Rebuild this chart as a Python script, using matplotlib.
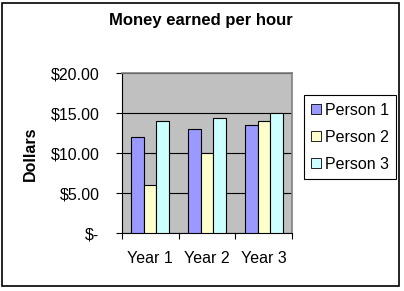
import numpy as np
import matplotlib.pyplot as plt
from matplotlib.patches import Rectangle, Patch
from matplotlib.ticker import FuncFormatter

# 数据
years = ['Year 1', 'Year 2', 'Year 3']
persons = ['Person 1', 'Person 2', 'Person 3']
person1 = [12.0, 13.0, 13.5]
person2 = [6.0, 10.0, 14.0]
person3 = [14.0, 14.4, 15.0]
colors = ['#9999FF', '#FFFFCC', '#CCFFFF']


def dollar(v, pos):
    if v == 0:
        return '$-'
    return '${:.2f}'.format(v)


def show_res():
    plt.rcParams['font.family'] = ['Liberation Sans', 'DejaVu Sans']

    fig = plt.figure(figsize=(4.04, 2.91), dpi=100)
    ax = fig.add_axes([0.301, 0.198, 0.4225, 0.55])
    ax.set_facecolor('#C0C0C0')

    # 柱子
    x = np.arange(len(years))
    w = 1 / 4.5
    for i, vals in enumerate([person1, person2, person3]):
        ax.bar(x + (i - 1) * w, vals, width=w, color=colors[i],
               edgecolor='black', linewidth=0.8, label=persons[i], zorder=3)

    ax.set_xlim(-0.5, 2.5)
    ax.set_ylim(0, 20)
    ax.set_yticks([0, 5, 10, 15, 20])
    ax.yaxis.set_major_formatter(FuncFormatter(dollar))
    ax.yaxis.grid(True, color='black', linewidth=0.8, zorder=1)
    ax.set_axisbelow(True)

    # x 轴刻度在类别边界
    ax.set_xticks([-0.5, 0.5, 1.5, 2.5])
    ax.set_xticklabels([])
    ax.set_xticks(x, minor=True)
    ax.set_xticklabels(years, minor=True, fontsize=11.5)
    ax.tick_params(axis='x', which='minor', length=0, pad=13)
    ax.tick_params(axis='x', which='major', length=4, width=0.8, direction='out')
    ax.tick_params(axis='y', length=4, width=0.8, pad=12, labelsize=11.5)

    for s in ['top', 'right']:
        ax.spines[s].set_color('#808080')
        ax.spines[s].set_linewidth(1.2)
    for s in ['left', 'bottom']:
        ax.spines[s].set_color('black')
        ax.spines[s].set_linewidth(0.8)

    ax.set_ylabel('Dollars', fontsize=11.5, fontweight='bold')
    ax.yaxis.set_label_coords(-0.49, 0.5)
    fig.text(0.4975, 0.928, 'Money earned per hour', fontsize=12,
             fontweight='bold', ha='center', va='center')

    # 图例
    handles = [Patch(facecolor=c, edgecolor='black', linewidth=0.6) for c in colors]
    leg = fig.legend(handles, persons, loc='center',
                     bbox_to_anchor=(0.8666, 0.529), fontsize=11.5,
                     fancybox=False, framealpha=1, edgecolor='black',
                     handlelength=0.6, handleheight=0.6, handletextpad=0.3,
                     labelspacing=0.75, borderpad=0.45, borderaxespad=0)
    leg.get_frame().set_linewidth(0.8)

    # 外框
    fig.patches.append(Rectangle((2 / 404, 5 / 291), 397 / 404, 283 / 291,
                                 transform=fig.transFigure, fill=False,
                                 edgecolor='black', linewidth=1.2))

    fig.savefig('out.png', dpi=100)


if __name__ == '__main__':
    show_res()
